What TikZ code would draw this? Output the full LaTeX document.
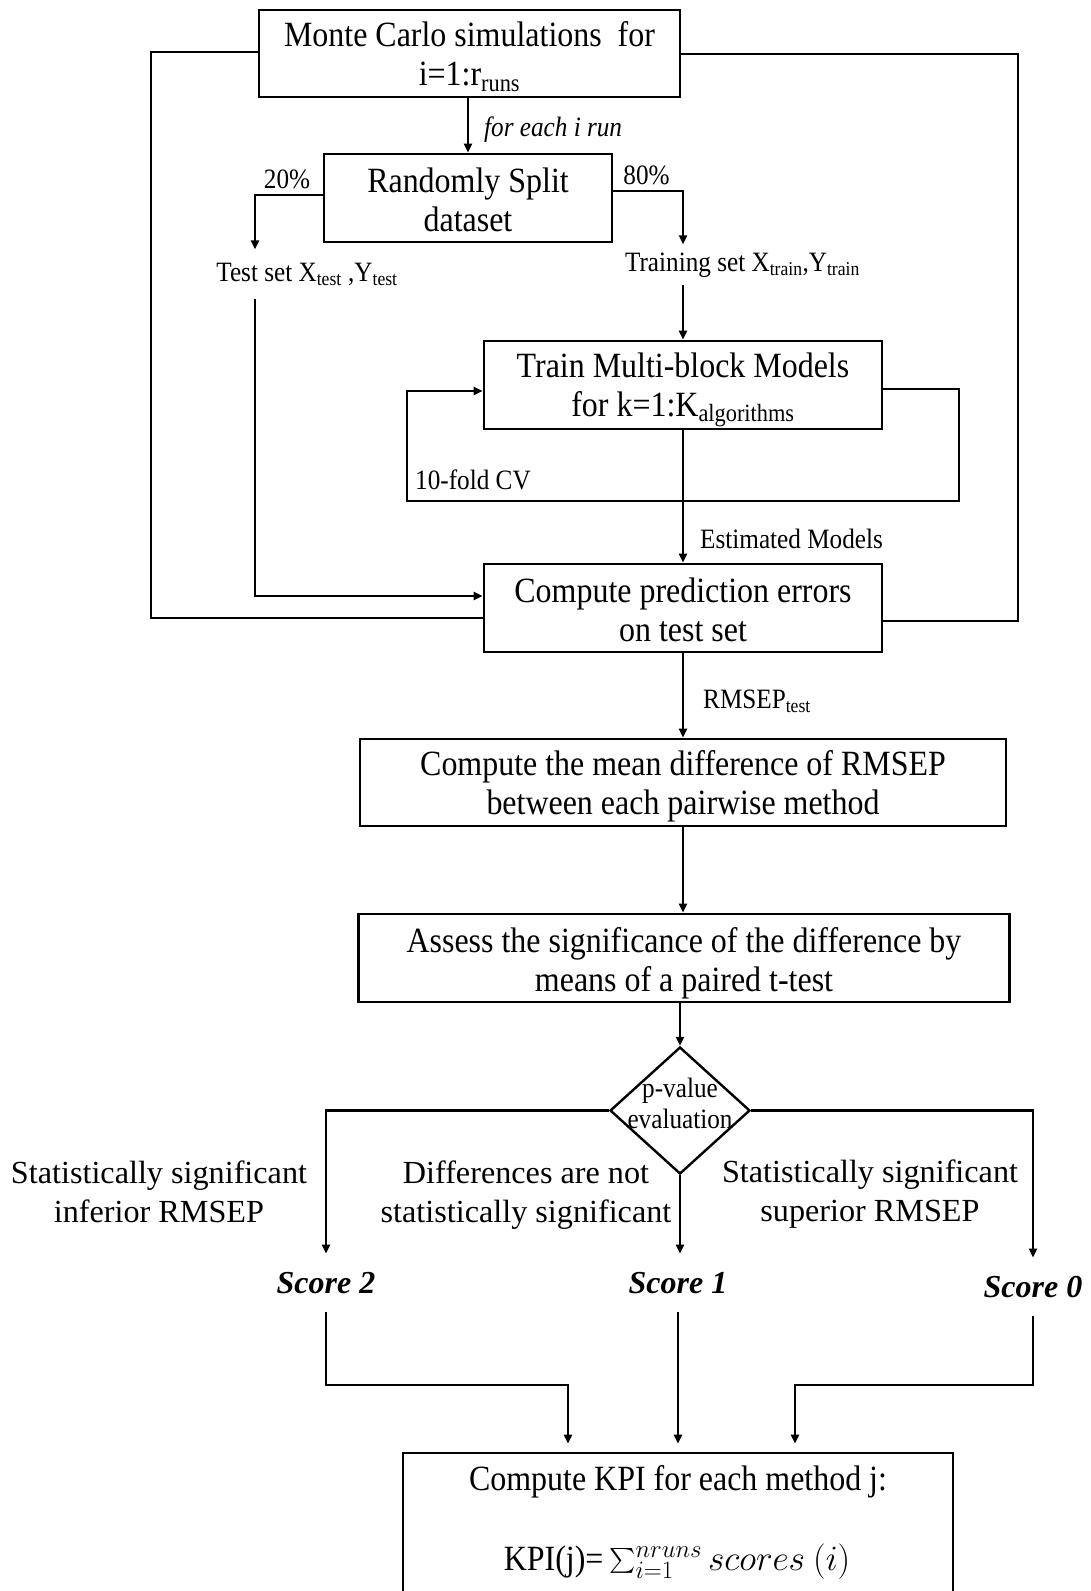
\RequirePackage{fix-cm}
\documentclass[tikz,border=0pt]{standalone}
\usepackage{exscale}
\usepackage{fontspec}
\setmainfont{Liberation Serif}
\newfontfamily\narrowserif[FakeStretch=0.9]{Liberation Serif}
\usetikzlibrary{arrows.meta,shapes.geometric}

% font sizes (1 unit = 1pt)
\newcommand\boxfont{\narrowserif\fontsize{35.5}{39}\selectfont}
\newcommand\lblfont{\narrowserif\fontsize{28}{31}\selectfont}
\newcommand\outfont{\fontsize{32.2}{39}\selectfont}
\newcommand\scorefont{\fontsize{32}{38}\selectfont\bfseries\itshape}

\begin{document}
\begin{tikzpicture}[x=1pt,y=-1pt,
  conn/.style={line width=2.2pt},
  arr/.style={line width=2.2pt,-{Triangle[length=9pt,width=8pt]}},
  box/.style={draw,line width=2.7pt,rectangle,inner sep=0pt},
  boxtext/.style={inner sep=0pt,align=center,font=\boxfont},
  lbl/.style={inner sep=0pt,font=\lblfont},
  outcome/.style={inner sep=0pt,align=center,font=\outfont},
  score/.style={inner xsep=2pt,inner ysep=18pt,font=\scorefont,anchor=base},
  decision/.style={draw,line width=2.4pt,diamond,inner sep=0pt,
    minimum width=140,minimum height=127}
]
\useasboundingbox (0,0) rectangle (1091,1591);
\fill[white] (0,0) rectangle (1091,1591);
\clip (0,0) rectangle (1091,1591);

% ---------- boxes ----------
\node[box,minimum width=421,minimum height=87] (mc) at (469.5,53.5) {};
\node[boxtext] (mctext) at ([yshift=-3]mc.center)
  {Monte Carlo simulations~~for\\i=1:r\textsubscript{runs}};
\node[box,minimum width=288,minimum height=88] (split) at (468,198) {};
\node[boxtext] (splittext) at ([yshift=-2]split.center) {Randomly Split\\dataset};
\node[box,minimum width=398,minimum height=88] (train) at (683,385) {};
\node[boxtext] (traintext) at ([yshift=-5]train.center)
  {Train Multi-block Models\\for k=1:K\textsubscript{algorithms}};
\node[box,minimum width=398,minimum height=88] (pred) at (683,608) {};
\node[boxtext] (predtext) at ([yshift=-1.5]pred.center)
  {Compute prediction errors\\on test set};
\node[box,minimum width=646,minimum height=87] (mean) at (683,782.5) {};
\node[boxtext] (meantext) at ([yshift=-4]mean.center)
  {Compute the mean difference of RMSEP\\between each pairwise method};
\node[box,minimum width=651,minimum height=88] (assess) at (684,958) {};
\node[boxtext] (assesstext) at ([yshift=-5]assess.center)
  {Assess the significance of the difference by\\means of a paired t-test};
\node[decision] (dia) at (680,1110.5) {};
\node[lbl,align=center] (diatext) at (680,1103) {p-value\\evaluation};
\node[box,minimum width=550,minimum height=187] (kpi) at (678,1546.5) {};
\node[inner sep=0pt,font=\boxfont,anchor=base] (kpihead) at (678,1490)
  {Compute KPI for each method j:};
\node[inner sep=0pt,font=\boxfont,anchor=base] (kpiform) at (677,1570)
  {KPI(j)=$\,\sum_{i=1}^{nruns} scores\ (i)$};

% ---------- labels ----------
\node[lbl,anchor=base west] (foreach) at (484,136) {\itshape for each i run};
\node[lbl,anchor=base] (p20) at (287,188) {20\%};
\node[lbl,anchor=base] (p80) at (646.5,184) {80\%};
\node[lbl,anchor=base,inner ysep=13pt] (testlbl) at (307,281)
  {Test set X\textsubscript{test} ,Y\textsubscript{test}};
\node[lbl,anchor=base,inner ysep=8pt] (trainlbl) at (742.5,271)
  {Training set X\textsubscript{train},Y\textsubscript{train}};
\node[lbl,anchor=base west] (cv) at (415,489) {10-fold CV};
\node[lbl,anchor=base west] (est) at (700,548) {Estimated Models};
\node[lbl,anchor=base west] (rmsep) at (703,708) {RMSEP\textsubscript{test}};

\node[outcome] (inf) at (159,1192) {Statistically significant\\inferior RMSEP};
\node[outcome] (nsig) at (526,1195) {Differences are not\\statistically significant};
\node[outcome] (sup) at (870,1194) {Statistically significant\\superior RMSEP};

\node[score] (s2) at (326,1293) {Score 2};
\node[score] (s1) at (678,1293) {Score 1};
\node[score] (s0) at (1033,1297) {Score 0};

% ---------- bend points ----------
\coordinate (oL) at (151,618);
\coordinate (oR) at (1018,621);
\coordinate (cvR) at (959,501);
\coordinate (cvL) at (407,501);
\coordinate (j2) at (568,1385);
\coordinate (j0) at (795,1385);

% ---------- connectors ----------
\draw[arr] (mc.south -| split.north) -- (split.north);
\draw[arr] ([yshift=3]split.west) -| ([xshift=-52]testlbl.north);
\draw[arr] ([yshift=7]split.east) -| ([xshift=-59.5]trainlbl.north);
\draw[arr] ([xshift=-59.5]trainlbl.south) -- (train.north);
\draw[arr] ([xshift=-52]testlbl.south) |- ([yshift=12]pred.west);

\draw[arr] ([yshift=-4]train.east) -| (cvR) -- (cvL) |- ([yshift=-6]train.west);
\draw[arr] (train.south) -- (pred.north);

\draw[conn] ([yshift=1.5]mc.west) -| (oL) -- (oL -| pred.west);
\draw[conn] ([yshift=-0.5]mc.east) -| (oR) -- (oR -| pred.east);

\draw[arr] (pred.south) -- (mean.north);
\draw[arr] (mean.south) -- (mean.south |- assess.north);
\draw[arr] (dia.north |- assess.south) -- (dia.north);

\draw[arr] (dia.west) -| (s2.north);
\draw[arr] (dia.east) -| (s0.north);
\draw[arr] (dia.south) -- (dia.south |- s1.north);

\draw[arr,shorten >=8pt] (s2.south) |- (j2) -- (j2 |- kpi.north);
\draw[arr,shorten >=8pt] (s1.south) -- (s1.south |- kpi.north);
\draw[arr,shorten >=8pt] (s0.south) |- (j0) -- (j0 |- kpi.north);
\end{tikzpicture}
\end{document}
